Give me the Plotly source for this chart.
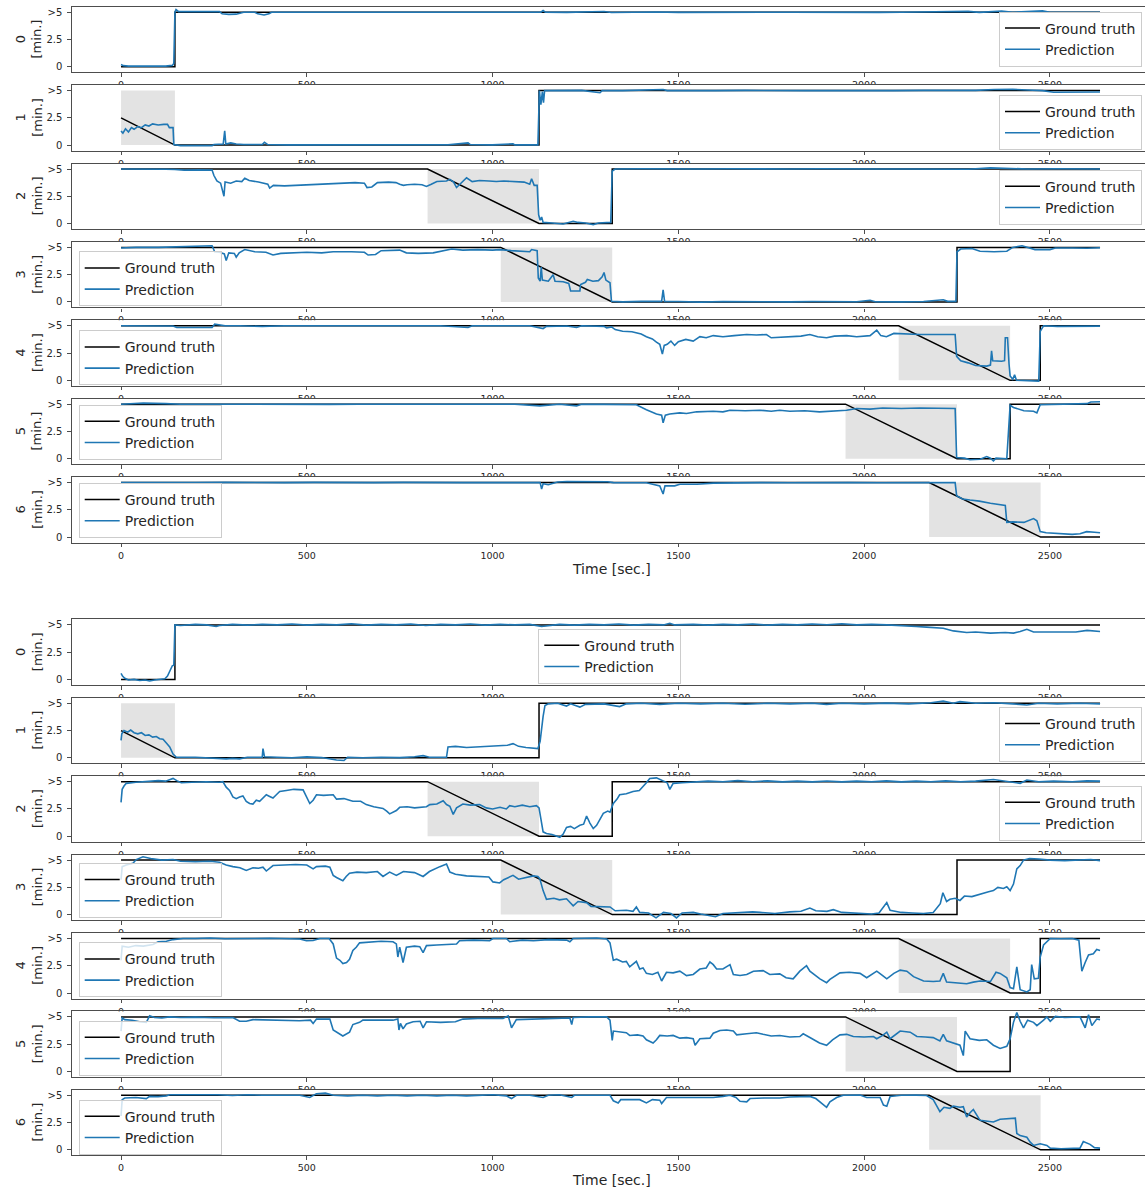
import plotly.graph_objects as go

# ---------------------------------------------------------------- data
TIME_TICKS = [0, 500, 1000, 1500, 2000, 2500]
VALUE_TICKS = [0, 2.5, 5]
VALUE_TICK_TEXT = ["0", "2.5", ">5"]
ROW_NAMES = ["0", "1", "2", "3", "4", "5", "6"]

# ground truth (time [s], remaining minutes capped at 5), shared by both runs
GT_0 = [[0, 0], [145, 0], [145, 5], [2635, 5]]
GT_1 = [[0, 2.5], [145, 0], [1125, 0], [1125, 5], [2635, 5]]
GT_2 = [[0, 5], [825, 5], [1125, 0], [1322, 0], [1322, 5], [2635, 5]]
GT_3 = [[0, 5], [1022, 5], [1322, 0], [2250, 0], [2250, 5], [2635, 5]]
GT_4 = [[0, 5], [2093, 5], [2393, 0], [2474, 0], [2474, 5], [2635, 5]]
GT_5 = [[0, 5], [1950, 5], [2250, 0], [2393, 0], [2393, 5], [2635, 5]]
GT_6 = [[0, 5], [2175, 5], [2475, 0], [2635, 0]]

# countdown windows (shaded)
SHADE_0 = []
SHADE_1 = [0, 145]
SHADE_2 = [825, 1125]
SHADE_3 = [1022, 1322]
SHADE_4 = [2093, 2393]
SHADE_5 = [1950, 2250]
SHADE_6 = [2175, 2475]

# first model: predictions
PRED_A0 = [[0,0.2],[6,0.1],[20,0.05],[50,0.05],[90,0.08],[120,0.05],[138,0.12],[142,0.3],[145,5.0],[148,5.25],[155,5.05],[200,5.05],[240,5.1],[265,5.05],[272,4.85],[290,4.8],[310,4.82],[320,4.9],[330,5.0],[360,5.0],[368,4.85],[385,4.75],[398,4.85],[405,5.0],[450,5.0],[500,4.98],[560,5.02],[620,4.98],[680,5.0],[740,5.02],[800,4.97],[860,5.0],[920,5.02],[980,4.97],[1040,5.0],[1100,5.02],[1130,5.0],[1136,5.15],[1142,5.0],[1200,4.98],[1260,5.04],[1300,5.06],[1320,4.97],[1380,5.0],[1440,5.02],[1500,4.98],[1560,5.0],[1620,5.02],[1680,4.98],[1740,5.0],[1800,5.0],[1860,4.98],[1920,5.02],[1980,5.0],[2040,4.98],[2100,5.0],[2160,5.02],[2220,5.0],[2280,5.08],[2310,4.98],[2340,5.06],[2370,5.1],[2400,5.0],[2440,5.06],[2480,5.12],[2500,5.0],[2560,5.02],[2600,4.98],[2635,5.0]]
PRED_A1 = [[0,1.3],[5,1.1],[12,1.5],[20,1.2],[28,1.6],[35,1.45],[45,1.7],[55,1.6],[65,1.85],[75,1.75],[85,1.95],[100,1.85],[115,1.9],[125,1.9],[130,1.6],[140,1.6],[142,0.05],[160,-0.05],[200,-0.05],[245,-0.05],[250,0.05],[275,0.1],[279,1.3],[282,0.1],[295,0.2],[310,0.1],[330,0.05],[380,0.05],[386,0.25],[395,0.05],[450,0.02],[520,0.02],[600,0.05],[640,0.03],[700,0.02],[760,0.04],[820,0.02],[880,0.03],[934,0.2],[940,0.05],[1000,0.02],[1055,0.12],[1060,0.02],[1122,0.02],[1126,5.0],[1130,3.7],[1134,4.9],[1137,3.9],[1140,5.0],[1180,5.0],[1240,5.02],[1289,4.8],[1295,5.0],[1350,5.0],[1400,5.02],[1459,5.1],[1470,5.0],[1530,4.98],[1600,5.0],[1680,5.02],[1760,4.98],[1840,5.0],[1920,5.0],[2000,4.98],[2080,5.0],[2160,5.02],[2240,5.0],[2300,5.02],[2350,5.1],[2400,5.12],[2440,5.05],[2480,5.0],[2510,4.85],[2560,4.85],[2600,4.88],[2635,4.87]]
PRED_A2 = [[0,5.0],[60,5.02],[120,4.98],[145,4.95],[170,4.9],[210,4.92],[245,4.9],[250,4.4],[258,3.9],[268,3.7],[277,2.5],[280,3.8],[295,3.7],[310,3.9],[325,3.85],[333,4.15],[345,3.95],[370,3.8],[395,3.6],[400,3.25],[410,3.5],[440,3.45],[480,3.5],[520,3.6],[560,3.65],[600,3.7],[630,3.75],[655,3.7],[662,3.3],[675,3.35],[690,3.75],[720,3.8],[740,3.75],[750,3.6],[760,3.5],[770,3.55],[790,3.6],[810,3.55],[822,3.4],[835,3.6],[850,3.85],[876,3.9],[885,4.05],[895,3.8],[903,3.3],[912,3.6],[930,4.2],[945,3.85],[965,3.95],[990,3.9],[1010,3.85],[1030,3.9],[1060,3.85],[1085,3.8],[1100,3.6],[1105,4.1],[1112,3.5],[1120,3.5],[1124,0.8],[1128,0.3],[1132,0.6],[1136,0.1],[1160,0.05],[1190,-0.05],[1217,0.2],[1230,0.1],[1250,0.05],[1271,-0.1],[1285,0.05],[1300,0.1],[1318,0.1],[1322,4.8],[1330,5.0],[1400,5.02],[1480,4.98],[1560,5.0],[1640,5.02],[1720,4.98],[1800,5.0],[1880,5.02],[1960,4.98],[2040,5.0],[2120,5.0],[2200,5.02],[2280,4.98],[2340,5.1],[2380,5.05],[2440,5.0],[2520,5.02],[2600,4.98],[2635,5.0]]
PRED_A3 = [[0,4.95],[40,5.0],[100,5.0],[170,5.1],[200,5.15],[245,5.15],[252,4.6],[265,4.55],[278,4.4],[283,3.8],[290,4.5],[305,4.45],[310,4.1],[318,4.5],[333,4.8],[345,4.7],[360,4.6],[390,4.55],[409,4.3],[430,4.45],[460,4.5],[500,4.55],[540,4.5],[571,4.6],[620,4.6],[655,4.55],[665,4.3],[685,4.35],[700,4.7],[750,4.75],[768,4.5],[800,4.45],[840,4.5],[870,4.7],[890,4.85],[920,4.75],[960,4.8],[1000,4.75],[1019,4.8],[1050,4.7],[1080,4.6],[1100,4.6],[1105,4.8],[1120,4.7],[1123,2.2],[1128,1.9],[1131,3.2],[1134,2.0],[1150,1.9],[1163,2.5],[1168,1.9],[1190,1.85],[1205,1.7],[1210,1.0],[1235,1.0],[1237,1.6],[1250,1.8],[1255,2.05],[1270,1.9],[1285,1.95],[1295,2.3],[1300,2.7],[1305,2.0],[1316,1.75],[1320,0.05],[1350,0.0],[1400,0.05],[1455,0.05],[1459,1.1],[1463,0.05],[1500,0.03],[1560,-0.02],[1620,0.03],[1680,0.0],[1740,0.02],[1800,0.0],[1860,0.03],[1920,0.0],[1980,0.02],[2016,0.15],[2030,0.02],[2100,0.0],[2160,0.03],[2213,0.2],[2225,0.05],[2247,0.05],[2250,4.6],[2260,4.85],[2290,4.9],[2312,4.65],[2350,4.6],[2384,4.65],[2400,5.0],[2425,5.15],[2440,5.0],[2460,4.8],[2500,4.8],[2515,4.95],[2560,4.95],[2600,4.92],[2635,4.97]]
PRED_A4 = [[0,5.0],[80,5.0],[140,4.98],[150,4.85],[200,4.82],[245,4.85],[252,5.15],[265,5.1],[280,5.0],[320,5.0],[380,4.95],[440,5.0],[500,5.0],[560,4.95],[620,5.0],[700,5.0],[780,4.98],[860,5.0],[934,4.85],[945,5.0],[1000,5.0],[1060,4.98],[1100,5.0],[1136,4.75],[1145,4.95],[1200,4.98],[1226,4.85],[1240,5.0],[1300,4.95],[1307,4.8],[1320,4.9],[1330,4.65],[1350,4.5],[1375,4.45],[1400,4.25],[1414,4.0],[1430,3.8],[1441,3.5],[1450,3.3],[1457,2.4],[1462,3.2],[1470,3.3],[1480,3.6],[1490,3.2],[1500,3.55],[1520,3.75],[1540,3.6],[1558,4.0],[1575,3.9],[1594,4.1],[1620,4.0],[1650,4.1],[1684,4.2],[1710,4.15],[1737,4.2],[1750,3.9],[1773,3.95],[1800,4.0],[1830,4.05],[1854,4.2],[1875,4.0],[1899,3.9],[1920,4.05],[1953,4.1],[1980,4.0],[2016,4.1],[2034,4.6],[2045,4.1],[2060,4.0],[2080,4.3],[2115,4.25],[2150,4.2],[2200,4.2],[2245,4.2],[2249,2.2],[2260,1.8],[2280,1.6],[2300,1.35],[2330,1.3],[2340,1.4],[2343,2.7],[2346,1.8],[2370,1.75],[2378,1.8],[2380,3.9],[2386,3.9],[2390,1.5],[2393,0.4],[2400,0.1],[2405,0.5],[2410,0.0],[2440,-0.05],[2470,-0.08],[2474,4.5],[2483,5.0],[2520,4.95],[2560,4.98],[2600,4.95],[2635,4.97]]
PRED_A5 = [[0,5.0],[40,5.05],[60,5.1],[120,5.05],[160,5.0],[240,5.0],[320,4.98],[400,5.0],[480,5.0],[560,4.98],[640,5.0],[720,5.0],[800,4.98],[880,5.0],[965,4.95],[1000,5.0],[1060,5.0],[1127,4.85],[1145,4.9],[1180,5.0],[1226,4.85],[1240,5.0],[1300,4.98],[1360,5.0],[1387,4.95],[1414,4.5],[1430,4.3],[1441,4.1],[1455,4.0],[1459,3.3],[1465,4.0],[1477,4.1],[1504,4.2],[1522,4.15],[1549,4.3],[1594,4.35],[1620,4.3],[1639,4.45],[1680,4.4],[1720,4.45],[1750,4.35],[1773,4.45],[1800,4.35],[1840,4.4],[1880,4.3],[1920,4.4],[1953,4.45],[1980,4.6],[2016,4.55],[2050,4.65],[2100,4.6],[2150,4.65],[2200,4.6],[2245,4.6],[2249,0.1],[2270,0.05],[2285,-0.1],[2312,-0.05],[2330,0.2],[2340,0.05],[2348,-0.2],[2355,0.05],[2384,0.0],[2393,4.9],[2402,4.7],[2430,4.4],[2456,4.35],[2465,4.2],[2474,4.95],[2520,5.0],[2560,4.98],[2600,5.05],[2610,5.2],[2635,5.22]]
PRED_A6 = [[0,5.0],[60,5.02],[120,4.98],[200,5.0],[280,5.02],[360,4.98],[440,5.0],[520,5.02],[600,4.98],[680,5.0],[760,5.02],[840,4.98],[920,5.0],[1000,5.0],[1080,5.0],[1128,5.0],[1132,4.4],[1136,4.9],[1150,4.8],[1175,5.05],[1200,5.1],[1260,5.1],[1310,5.08],[1325,5.0],[1380,5.0],[1414,4.98],[1450,4.7],[1459,3.95],[1464,4.7],[1490,4.7],[1504,4.85],[1550,4.85],[1594,4.95],[1650,5.0],[1720,5.0],[1800,4.98],[1880,5.02],[1960,5.0],[2040,4.98],[2120,5.0],[2200,5.02],[2245,5.0],[2249,3.8],[2265,3.5],[2285,3.4],[2310,3.3],[2340,3.1],[2360,3.0],[2380,2.9],[2384,1.35],[2400,1.4],[2430,1.35],[2450,1.6],[2456,1.7],[2465,1.5],[2474,0.5],[2490,0.4],[2527,0.3],[2560,0.25],[2581,0.3],[2599,0.5],[2620,0.45],[2635,0.4]]

# second model: predictions
PRED_B0 = [[0,0.55],[4,0.3],[10,0.1],[20,-0.05],[35,0.0],[50,-0.1],[65,-0.05],[77,-0.15],[90,-0.05],[105,0.0],[118,0.05],[125,0.3],[132,0.9],[138,1.25],[142,1.3],[145,5.0],[160,4.95],[200,5.05],[230,5.0],[256,4.85],[265,4.95],[300,5.05],[340,4.98],[380,5.05],[420,5.0],[460,5.08],[500,4.98],[540,5.05],[580,5.0],[620,5.1],[660,4.98],[700,5.05],[740,5.0],[780,5.08],[820,4.95],[860,5.05],[900,5.0],[940,5.08],[980,4.98],[1020,5.05],[1060,5.0],[1100,5.05],[1132,4.85],[1145,4.9],[1180,5.05],[1220,4.98],[1260,5.05],[1300,5.0],[1340,5.08],[1380,4.98],[1420,5.05],[1460,5.0],[1477,5.15],[1490,5.0],[1540,5.05],[1580,4.98],[1620,5.05],[1660,5.0],[1700,5.08],[1740,4.98],[1780,5.05],[1820,5.0],[1860,5.08],[1900,5.02],[1940,5.1],[1980,5.0],[2020,5.05],[2061,5.0],[2100,4.9],[2140,4.85],[2168,4.8],[2213,4.7],[2240,4.45],[2276,4.3],[2300,4.35],[2340,4.25],[2380,4.3],[2402,4.25],[2420,4.4],[2438,4.6],[2456,4.35],[2492,4.35],[2530,4.4],[2570,4.35],[2600,4.5],[2617,4.45],[2635,4.4]]
PRED_B1 = [[0,1.6],[2,2.2],[8,2.5],[18,2.35],[26,2.55],[35,2.3],[45,2.2],[55,2.3],[65,2.05],[75,2.1],[85,1.9],[95,1.95],[104,1.75],[113,1.7],[122,1.35],[131,1.0],[140,0.35],[149,0.05],[200,0.05],[240,0.0],[283,-0.1],[300,-0.05],[319,-0.1],[340,0.05],[370,0.0],[380,0.05],[382,0.85],[386,0.1],[420,0.05],[460,0.0],[500,0.08],[540,0.02],[580,-0.2],[600,-0.25],[610,0.05],[650,0.0],[700,0.05],[750,0.02],[790,0.1],[813,0.2],[830,0.05],[876,0.05],[880,1.0],[900,1.05],[930,0.95],[960,1.0],[990,1.05],[1020,1.1],[1040,1.15],[1055,1.3],[1070,1.05],[1090,0.95],[1110,0.9],[1122,0.85],[1128,1.5],[1132,3.0],[1136,3.8],[1141,4.8],[1150,4.95],[1175,5.0],[1199,4.75],[1210,4.95],[1235,4.65],[1250,4.9],[1300,4.95],[1342,4.7],[1360,4.95],[1400,5.0],[1450,4.9],[1500,5.0],[1560,4.95],[1620,5.0],[1680,4.92],[1740,5.0],[1800,4.95],[1860,5.0],[1899,4.9],[1940,5.0],[2000,4.95],[2060,5.02],[2120,4.95],[2180,5.05],[2213,5.2],[2240,5.0],[2258,5.15],[2300,5.0],[2350,5.05],[2400,4.95],[2438,4.85],[2470,5.0],[2520,4.95],[2580,5.0],[2635,4.95]]
PRED_B2 = [[0,3.1],[3,4.3],[8,4.6],[14,4.85],[40,4.95],[77,5.05],[100,5.1],[120,5.05],[140,5.3],[150,5.1],[162,4.9],[190,4.95],[230,5.0],[265,4.95],[274,5.0],[283,4.5],[292,4.2],[301,3.6],[310,3.45],[319,3.6],[328,3.7],[337,3.2],[346,3.0],[355,2.95],[364,3.3],[373,3.2],[382,3.5],[391,3.8],[400,3.65],[409,3.5],[418,3.8],[427,4.1],[445,4.2],[465,4.3],[490,4.25],[499,3.6],[508,3.0],[517,3.3],[526,3.8],[545,3.75],[571,3.8],[580,3.4],[600,3.45],[615,3.3],[624,3.2],[645,3.2],[660,2.9],[680,2.7],[705,2.55],[715,2.3],[723,2.05],[741,2.35],[750,2.65],[770,2.7],[790,2.6],[822,2.7],[831,2.9],[850,2.95],[867,3.25],[876,2.9],[885,2.75],[894,2.0],[903,2.6],[920,2.95],[940,2.85],[965,2.9],[983,2.6],[1000,2.5],[1020,2.65],[1037,2.5],[1046,2.8],[1060,2.7],[1080,2.85],[1100,2.7],[1118,2.8],[1125,2.6],[1131,1.2],[1136,0.4],[1145,0.25],[1160,0.15],[1181,-0.1],[1190,0.2],[1199,0.8],[1210,0.9],[1220,0.7],[1235,1.0],[1245,1.1],[1253,1.85],[1262,1.2],[1271,0.7],[1280,1.0],[1289,1.5],[1298,2.1],[1310,2.3],[1316,2.2],[1325,3.0],[1335,3.4],[1342,3.8],[1360,3.9],[1378,4.1],[1395,4.2],[1414,4.9],[1423,5.3],[1441,5.35],[1459,5.1],[1470,4.9],[1477,4.3],[1486,4.85],[1510,4.9],[1549,4.95],[1580,5.05],[1620,5.0],[1660,5.1],[1700,5.0],[1740,5.08],[1780,4.98],[1820,5.05],[1860,4.98],[1900,5.06],[1940,4.98],[1980,5.05],[2020,5.0],[2060,5.08],[2100,4.98],[2140,5.05],[2180,5.0],[2220,5.08],[2260,5.0],[2300,5.05],[2348,5.2],[2380,5.05],[2420,4.85],[2438,5.15],[2470,5.0],[2510,5.05],[2560,5.0],[2600,5.08],[2635,5.05]]
PRED_B3 = [[0,3.2],[3,4.4],[14,4.55],[32,4.7],[41,5.05],[59,5.3],[80,5.15],[95,5.1],[110,5.0],[140,5.05],[160,4.9],[200,4.85],[240,4.9],[265,4.8],[283,4.55],[301,4.4],[320,4.3],[337,4.05],[355,4.3],[370,4.25],[382,4.35],[391,4.0],[409,4.5],[440,4.55],[470,4.6],[500,4.55],[517,4.2],[526,4.4],[550,4.45],[562,4.35],[571,3.6],[580,3.4],[597,3.1],[606,3.5],[615,3.8],[635,3.9],[660,3.85],[690,3.95],[705,3.5],[723,3.9],[741,3.6],[760,3.95],[790,3.85],[813,3.5],[830,3.95],[858,4.4],[876,4.65],[885,3.9],[900,3.7],[930,3.55],[960,3.5],[990,3.45],[1001,3.0],[1019,2.9],[1030,3.2],[1055,3.6],[1070,3.25],[1091,3.4],[1110,3.55],[1122,3.5],[1127,3.3],[1136,2.2],[1145,1.4],[1165,1.5],[1180,1.35],[1199,1.45],[1217,0.8],[1230,1.2],[1253,1.1],[1265,0.75],[1290,0.7],[1316,0.7],[1330,0.35],[1360,0.4],[1378,0.3],[1387,0.7],[1396,0.2],[1420,0.15],[1440,-0.3],[1460,0.2],[1480,0.1],[1495,-0.3],[1510,0.15],[1540,0.2],[1560,0.05],[1600,-0.2],[1620,0.1],[1660,0.15],[1700,0.25],[1720,0.2],[1760,0.1],[1800,0.25],[1830,0.3],[1854,0.6],[1870,0.35],[1900,0.3],[1917,0.45],[1940,0.2],[1980,0.15],[2020,0.05],[2040,0.15],[2061,1.1],[2070,0.4],[2100,0.2],[2130,0.15],[2160,0.1],[2186,0.2],[2195,0.6],[2205,1.0],[2212,2.0],[2222,1.2],[2231,1.4],[2245,1.5],[2258,1.3],[2270,1.7],[2290,1.65],[2303,1.8],[2320,2.0],[2335,2.1],[2348,2.2],[2360,2.5],[2375,2.4],[2384,2.55],[2393,2.2],[2402,2.8],[2411,4.2],[2420,4.5],[2429,5.0],[2445,5.15],[2470,5.1],[2500,5.0],[2540,4.95],[2580,5.0],[2610,5.05],[2635,4.95]]
PRED_B4 = [[0,3.0],[3,4.3],[20,4.2],[40,4.35],[60,4.3],[86,4.45],[100,4.7],[122,4.75],[140,4.9],[167,5.0],[200,5.0],[240,5.05],[280,4.98],[320,5.02],[360,5.0],[400,5.02],[440,4.98],[481,4.95],[499,4.8],[517,4.82],[535,5.0],[560,5.0],[571,4.5],[580,3.2],[589,3.0],[597,2.7],[607,2.8],[615,3.1],[624,3.9],[633,4.2],[642,4.6],[670,4.7],[700,4.75],[732,4.7],[741,4.5],[745,3.3],[750,4.2],[759,2.8],[768,4.2],[790,4.3],[804,4.25],[813,3.7],[822,4.35],[850,4.4],[880,4.45],[903,4.5],[911,4.8],[950,4.85],[992,4.8],[1001,5.0],[1037,5.0],[1046,4.7],[1055,4.75],[1080,4.85],[1110,4.8],[1150,4.9],[1199,4.85],[1208,4.7],[1217,5.0],[1250,5.0],[1280,5.05],[1307,4.95],[1316,4.6],[1325,3.0],[1334,3.1],[1350,2.85],[1360,2.9],[1369,2.4],[1387,2.9],[1396,2.2],[1405,2.3],[1414,1.8],[1430,1.7],[1445,1.9],[1455,1.1],[1468,1.9],[1486,1.85],[1504,2.0],[1522,1.6],[1540,1.7],[1558,2.2],[1575,2.3],[1585,2.85],[1594,2.6],[1603,2.2],[1620,2.2],[1639,2.6],[1648,1.7],[1666,1.6],[1684,1.7],[1702,2.0],[1728,2.05],[1746,1.7],[1773,1.75],[1790,1.4],[1809,1.3],[1827,2.0],[1845,2.5],[1854,2.0],[1881,1.3],[1899,0.95],[1908,1.25],[1935,1.85],[1960,1.9],[1989,1.8],[2007,1.4],[2034,2.0],[2050,1.6],[2061,1.3],[2080,1.8],[2097,2.1],[2115,2.0],[2133,1.5],[2160,1.1],[2186,1.05],[2204,1.1],[2213,1.8],[2222,1.0],[2250,0.9],[2276,0.85],[2294,1.0],[2312,1.1],[2340,1.05],[2355,1.9],[2366,1.8],[2384,1.4],[2393,0.5],[2402,0.4],[2411,2.4],[2420,0.3],[2438,0.1],[2447,0.3],[2451,2.6],[2458,1.3],[2469,1.35],[2474,3.3],[2483,4.4],[2492,4.7],[2501,5.0],[2530,4.98],[2560,5.0],[2578,4.85],[2586,2.0],[2595,2.8],[2604,3.5],[2617,3.6],[2626,4.0],[2635,3.9]]
PRED_B5 = [[0,3.7],[3,4.9],[10,4.75],[30,4.7],[50,4.55],[68,4.5],[77,5.1],[90,4.95],[110,4.9],[130,5.0],[160,4.95],[200,4.98],[250,4.92],[301,4.95],[319,4.6],[337,4.6],[355,4.75],[400,4.7],[440,4.72],[480,4.65],[510,4.7],[517,4.4],[526,4.8],[562,4.8],[571,3.8],[580,3.6],[597,3.25],[615,3.6],[624,4.3],[642,4.5],[651,4.7],[690,4.72],[732,4.7],[745,4.8],[748,3.8],[752,4.4],[759,3.9],[768,4.35],[786,4.55],[805,4.6],[813,4.0],[822,4.55],[860,4.5],[900,4.55],[920,4.8],[960,4.85],[1000,4.82],[1028,4.85],[1042,5.1],[1051,4.0],[1064,4.75],[1100,4.8],[1145,4.85],[1180,4.92],[1208,4.9],[1213,4.3],[1217,4.95],[1260,5.0],[1307,5.0],[1316,4.7],[1322,2.85],[1325,3.7],[1345,3.65],[1360,3.55],[1369,3.3],[1390,3.35],[1405,3.25],[1414,2.9],[1432,2.6],[1441,2.9],[1450,3.3],[1470,3.25],[1486,3.3],[1504,3.05],[1522,3.1],[1540,3.0],[1545,2.4],[1558,3.0],[1585,3.05],[1594,3.5],[1612,3.75],[1630,3.8],[1648,3.7],[1657,3.35],[1684,3.45],[1710,3.55],[1728,3.4],[1750,3.25],[1773,3.3],[1800,3.15],[1827,3.2],[1836,3.45],[1860,3.0],[1880,2.6],[1899,2.4],[1915,2.9],[1935,3.35],[1953,3.4],[1971,3.2],[2000,3.15],[2025,3.2],[2034,3.0],[2050,3.3],[2061,3.6],[2070,3.0],[2097,3.7],[2124,3.6],[2142,3.2],[2165,3.15],[2186,3.1],[2204,2.8],[2213,3.4],[2222,2.8],[2240,2.6],[2258,2.4],[2267,1.45],[2272,3.7],[2285,3.0],[2310,2.85],[2330,2.9],[2348,2.4],[2366,2.1],[2384,2.3],[2393,3.0],[2402,4.5],[2411,5.4],[2420,4.6],[2429,4.0],[2440,4.7],[2456,4.5],[2465,4.2],[2483,4.7],[2492,5.0],[2501,4.6],[2515,5.05],[2540,4.95],[2565,5.0],[2581,5.0],[2595,4.0],[2604,5.2],[2613,4.2],[2626,4.8],[2635,4.75]]
PRED_B6 = [[0,3.1],[3,4.6],[10,4.75],[40,4.8],[68,4.7],[77,4.9],[100,4.88],[122,4.95],[131,5.05],[176,5.05],[220,5.0],[260,5.05],[300,4.98],[340,5.05],[380,5.0],[420,5.02],[460,4.98],[481,5.0],[508,4.8],[526,5.15],[550,5.2],[571,5.0],[610,4.95],[650,5.0],[690,4.95],[730,5.0],[770,4.95],[810,5.0],[850,4.95],[890,5.0],[930,4.95],[970,5.0],[1001,5.05],[1037,4.95],[1051,4.7],[1064,5.0],[1100,5.0],[1136,4.8],[1150,5.0],[1180,5.05],[1213,4.8],[1220,5.0],[1260,5.0],[1300,5.02],[1316,5.0],[1325,4.5],[1338,4.3],[1345,4.6],[1370,4.6],[1396,4.6],[1414,4.3],[1430,4.6],[1450,4.55],[1455,4.25],[1468,4.8],[1500,4.8],[1540,4.85],[1594,4.8],[1620,4.9],[1639,5.0],[1655,4.8],[1666,4.45],[1684,4.4],[1693,4.7],[1730,4.75],[1773,4.75],[1800,4.85],[1830,4.9],[1854,4.9],[1870,4.7],[1885,4.3],[1899,3.9],[1908,4.4],[1926,4.8],[1944,5.0],[1989,5.02],[2007,4.8],[2043,4.8],[2052,4.1],[2061,4.0],[2070,4.9],[2100,5.0],[2140,5.02],[2168,4.98],[2186,4.6],[2195,4.0],[2204,3.5],[2215,3.9],[2231,3.8],[2240,4.0],[2258,3.9],[2267,3.95],[2276,3.0],[2285,3.4],[2294,3.7],[2312,2.7],[2330,2.6],[2348,2.55],[2366,2.8],[2384,2.85],[2402,2.85],[2407,2.9],[2411,1.5],[2420,1.3],[2438,1.15],[2447,0.7],[2456,0.4],[2465,0.5],[2474,0.55],[2492,0.4],[2501,0.15],[2530,0.1],[2560,0.12],[2581,0.15],[2590,0.75],[2600,0.6],[2608,0.5],[2620,0.2],[2635,0.15]]

GROUND_TRUTH = [GT_0, GT_1, GT_2, GT_3, GT_4, GT_5, GT_6]
SHADES = [SHADE_0, SHADE_1, SHADE_2, SHADE_3, SHADE_4, SHADE_5, SHADE_6]
RUNS = [
    [PRED_A0, PRED_A1, PRED_A2, PRED_A3, PRED_A4, PRED_A5, PRED_A6],
    [PRED_B0, PRED_B1, PRED_B2, PRED_B3, PRED_B4, PRED_B5, PRED_B6],
]

# ---------------------------------------------------------------- layout
W, H = 1145, 1194
LEFT = 72                      # left spine position in px
PLOT_W = W - LEFT
X_RANGE = [-132, 2756]
Y_RANGE = [-0.505, 5.505]
GROUP_TOP = [6.7, 619.4]
PITCH = 78.4
PANEL_H = 65.5
XLABEL_Y = [569, 1180]

FONT = "DejaVu Sans"
TXT = "#262626"
SPINE = "#4d4d4d"
BLUE = "#1f77b4"
SHADE_COL = "#e3e3e3"

# legend boxes: (side, px x of that side, px y of box top)
LEGEND_POS = [
    [("right", 1142, 11.5), ("right", 1142, 95), ("right", 1142, 169.7),
     ("left", 78.7, 251.3), ("left", 78.7, 330.3), ("left", 78.7, 404.7), ("left", 78.7, 483)],
    [("left", 538.3, 628.7), ("right", 1142, 707), ("right", 1142, 785.7),
     ("left", 78.7, 863), ("left", 78.7, 942.3), ("left", 78.7, 1020.7), ("left", 78.7, 1099.7)],
]


def px_x(px):
    return (px - LEFT) / PLOT_W


def px_y(py):
    return 1 - py / H


fig = go.Figure()
shapes, annotations, layout_axes, legends = [], [], {}, {}

for g, preds in enumerate(RUNS):
    for i in range(7):
        n = g * 7 + i + 1
        sfx = "" if n == 1 else str(n)
        xr, yr = "x" + sfx, "y" + sfx
        leg = "legend" + sfx
        top = GROUP_TOP[g] + i * PITCH
        bottom = top + PANEL_H

        gt = GROUND_TRUTH[i]
        pr = preds[i]
        fig.add_trace(go.Scatter(
            x=[p[0] for p in gt], y=[p[1] for p in gt], mode="lines",
            line=dict(color="black", width=1.5), name="Ground truth",
            xaxis=xr, yaxis=yr, legend=leg, hoverinfo="skip"))
        fig.add_trace(go.Scatter(
            x=[p[0] for p in pr], y=[p[1] for p in pr], mode="lines",
            line=dict(color=BLUE, width=1.6), name="Prediction",
            xaxis=xr, yaxis=yr, legend=leg, hoverinfo="skip"))

        # opaque panel background, hides tick labels of the panel above
        if i > 0:
            shapes.append(dict(type="rect", xref=xr, yref=yr, layer="below",
                               x0=-5000, x1=9000, y0=-50, y1=50,
                               fillcolor="white", line=dict(width=0)))
        if SHADES[i]:
            shapes.append(dict(type="rect", xref=xr, yref=yr, layer="below",
                               x0=SHADES[i][0], x1=SHADES[i][1], y0=0, y1=5,
                               fillcolor=SHADE_COL, line=dict(width=0)))

        layout_axes["xaxis" + sfx] = dict(
            domain=[0, 1], range=X_RANGE, anchor=yr,
            showline=True, mirror=True, linecolor=SPINE, linewidth=1.3,
            ticks="outside", ticklen=3.5, tickwidth=1, tickcolor=SPINE,
            tickvals=TIME_TICKS, tickfont=dict(family=FONT, size=9.5, color=TXT),
            showgrid=False, zeroline=False, fixedrange=True)
        layout_axes["yaxis" + sfx] = dict(
            domain=[px_y(bottom), px_y(top)], range=Y_RANGE, anchor=xr,
            showline=True, mirror=False, linecolor=SPINE, linewidth=1.3,
            ticks="outside", ticklen=3.5, tickwidth=1, tickcolor=SPINE,
            tickvals=VALUE_TICKS, ticktext=VALUE_TICK_TEXT, ticklabelstandoff=3,
            tickfont=dict(family=FONT, size=10, color=TXT),
            showgrid=False, zeroline=False, fixedrange=True)

        side, lx, ly = LEGEND_POS[g][i]
        legends[leg] = dict(
            x=px_x(lx), y=px_y(ly), xanchor=side, yanchor="top",
            xref="paper", yref="paper",
            bgcolor="rgba(255,255,255,0.8)", bordercolor="#cccccc", borderwidth=1,
            font=dict(family=FONT, size=14, color=TXT), itemwidth=35,
            tracegroupgap=0)

        annotations.append(dict(
            text=ROW_NAMES[i] + "<br>[min.]", xref="paper", yref="paper",
            x=px_x(29), y=px_y((top + bottom) / 2), textangle=-90,
            xanchor="center", yanchor="middle", showarrow=False,
            font=dict(family=FONT, size=13, color=TXT)))

    annotations.append(dict(
        text="Time [sec.]", xref="paper", yref="paper",
        x=px_x(611), y=px_y(XLABEL_Y[g]), xanchor="center", yanchor="middle",
        showarrow=False, font=dict(family=FONT, size=14, color=TXT)))

fig.update_layout(
    width=W, height=H,
    margin=dict(l=LEFT, r=0, t=0, b=0, autoexpand=False),
    paper_bgcolor="white", plot_bgcolor="white",
    shapes=shapes, annotations=annotations,
    font=dict(family=FONT, color=TXT),
    **layout_axes, **legends)

fig.write_html("out.html", config={"displayModeBar": False})
